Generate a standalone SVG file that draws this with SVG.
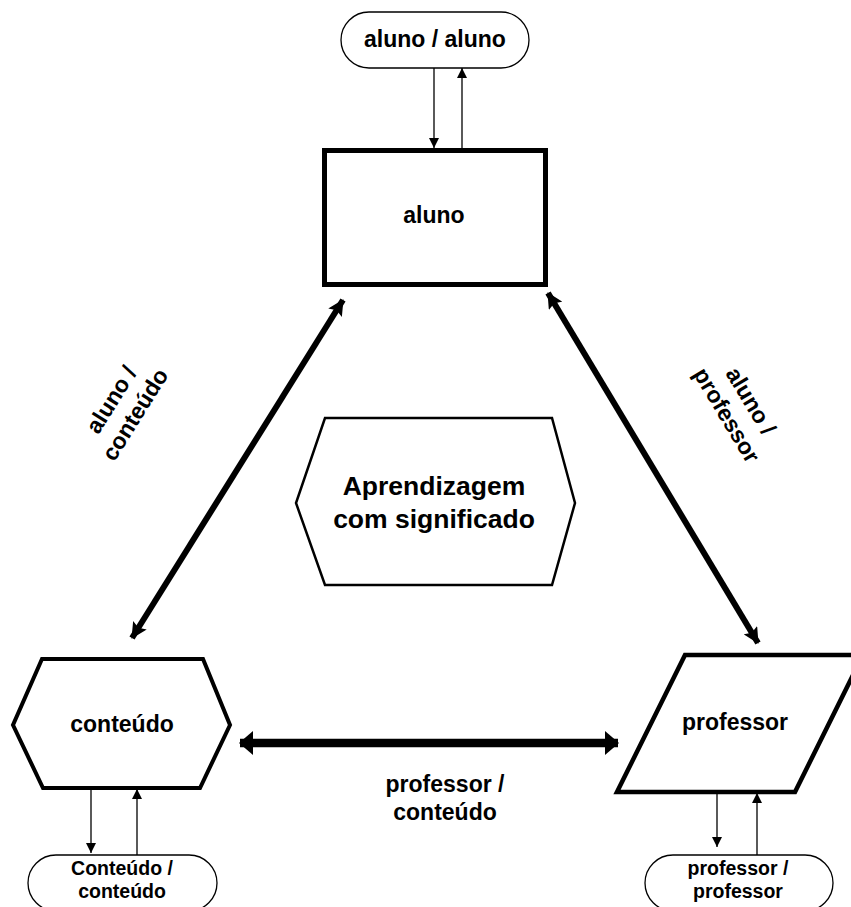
<svg xmlns="http://www.w3.org/2000/svg" width="851" height="907" viewBox="0 0 851 907">
<style>
  .t { font-family: "Liberation Sans", Arial, sans-serif; font-weight: bold; fill: #000; text-anchor: middle; }
  .node { fill: #fff; stroke: #000; stroke-linejoin: miter; }
  .thin { stroke: #000; stroke-width: 1.3; fill: none; }
  .diag { stroke: #000; stroke-width: 6; fill: none; }
  .horiz { stroke: #000; stroke-width: 8.5; fill: none; }
</style>
<defs>
  <marker id="aThin" markerUnits="userSpaceOnUse" markerWidth="10" markerHeight="10" refX="10" refY="5" orient="auto-start-reverse" viewBox="0 0 10 10">
    <path d="M0,0 L10,5 L0,10 z" fill="#000"/>
  </marker>
  <marker id="aDiag" markerUnits="userSpaceOnUse" markerWidth="16" markerHeight="16" refX="15" refY="8" orient="auto-start-reverse" viewBox="0 0 16 16">
    <path d="M0,0 L16,8 L0,16 L3,8 z" fill="#000"/>
  </marker>
  <marker id="aHoriz" markerUnits="userSpaceOnUse" markerWidth="14" markerHeight="24" refX="13" refY="12" orient="auto-start-reverse" viewBox="0 0 14 24">
    <path d="M0,0 L14,12 L0,24 z" fill="#000"/>
  </marker>
</defs>

<g id="connectors">
  <line class="thin" x1="434" y1="68" x2="434" y2="148" marker-end="url(#aThin)"/>
  <line class="thin" x1="462" y1="148" x2="462" y2="68" marker-end="url(#aThin)"/>
  <line class="thin" x1="91" y1="789" x2="91" y2="853" marker-end="url(#aThin)"/>
  <line class="thin" x1="137" y1="855" x2="137" y2="789" marker-end="url(#aThin)"/>
  <line class="thin" x1="717" y1="793" x2="717" y2="847" marker-end="url(#aThin)"/>
  <line class="thin" x1="757" y1="855" x2="757" y2="793" marker-end="url(#aThin)"/>
  <line class="diag" x1="132" y1="638" x2="343" y2="300" marker-start="url(#aDiag)" marker-end="url(#aDiag)"/>
  <line class="diag" x1="548" y1="293" x2="758" y2="643" marker-start="url(#aDiag)" marker-end="url(#aDiag)"/>
  <line class="horiz" x1="240" y1="743" x2="618" y2="743" marker-start="url(#aHoriz)" marker-end="url(#aHoriz)"/>
  <text class="t" font-size="23" transform="translate(123,407) rotate(-58)"><tspan x="0" y="-6">aluno /</tspan><tspan x="0" y="22">conteúdo</tspan></text>
  <text class="t" font-size="23" transform="translate(739,408) rotate(59)"><tspan x="0" y="-6">aluno /</tspan><tspan x="0" y="22">professor</tspan></text>
  <text class="t" font-size="23"><tspan x="445" y="792">professor /</tspan><tspan x="445" y="820">conteúdo</tspan></text>
</g>

<g id="aluno-aluno">
  <rect class="node" x="341" y="12" width="188" height="56" rx="28" ry="28" stroke-width="1.3"/>
  <text class="t" font-size="23" x="435" y="47">aluno / aluno</text>
</g>

<g id="aluno">
  <rect class="node" x="324.5" y="150.5" width="221" height="134" stroke-width="5"/>
  <text class="t" font-size="23" x="434" y="223">aluno</text>
</g>

<g id="aprendizagem">
  <polygon class="node" points="325,418 552,418 575,503 552,585 325,585 296,503" stroke-width="2.5"/>
  <text class="t" font-size="26.5"><tspan x="434" y="495">Aprendizagem</tspan><tspan x="434" y="528">com significado</tspan></text>
</g>

<g id="conteudo">
  <polygon class="node" points="42,659 203,659 230,725 200,788 43,788 13,725" stroke-width="4"/>
  <text class="t" font-size="23" x="122" y="732">conteúdo</text>
</g>

<g id="conteudo-conteudo">
  <rect class="node" x="28" y="855" width="189" height="56" rx="28" ry="28" stroke-width="1.3"/>
  <text class="t" font-size="19.5"><tspan x="122" y="875">Conteúdo /</tspan><tspan x="122" y="898">conteúdo</tspan></text>
</g>

<g id="professor">
  <polygon class="node" points="685,655 863,655 795,792 617,792" stroke-width="4.5"/>
  <text class="t" font-size="23" x="735" y="730">professor</text>
</g>

<g id="professor-professor">
  <rect class="node" x="645" y="855" width="188" height="56" rx="28" ry="28" stroke-width="1.3"/>
  <text class="t" font-size="19.5"><tspan x="738" y="875">professor /</tspan><tspan x="738" y="898">professor</tspan></text>
</g>
</svg>
